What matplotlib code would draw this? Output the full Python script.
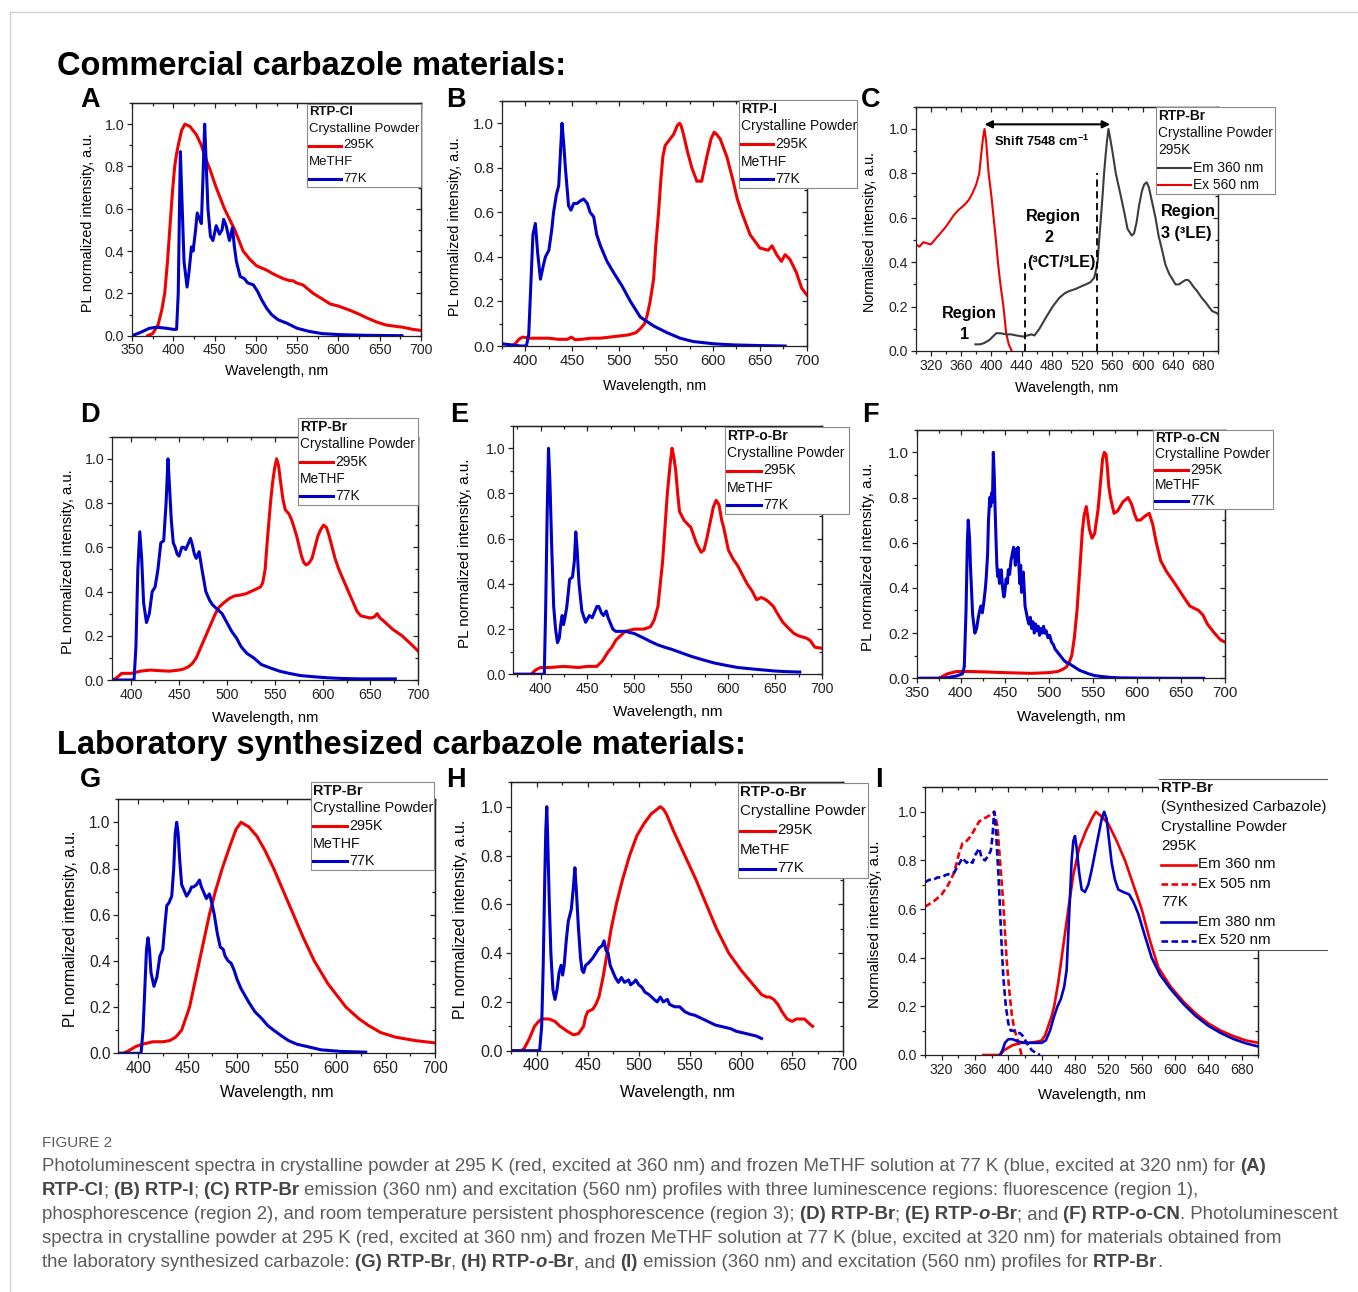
import matplotlib
matplotlib.use("Agg")
import numpy as np
import matplotlib.pyplot as plt
from matplotlib.lines import Line2D
from matplotlib.patches import Rectangle
from matplotlib.ticker import MultipleLocator, FormatStrFormatter

W, H = 1358, 1292
RED = "#f00000"
BLUE = "#0000c8"
GREY = "#3c3c3c"

# ---------------- spectra: (wavelength nm, normalised intensity) -------------
A_RED = [(369, 0), (375, 0.01), (381.5, 0.05), (386, 0.12), (389.6, 0.2), (393, 0.35), (395.7, 0.5),
         (399, 0.68), (401.7, 0.8), (404, 0.86), (406, 0.9), (410, 0.97), (414, 1.0), (420, 0.99),
         (428, 0.95), (434, 0.9), (438, 0.85), (444, 0.79), (452, 0.7), (462, 0.6), (474.5, 0.5),
         (484.6, 0.4), (493, 0.36), (501, 0.33), (513, 0.31), (522, 0.29), (533, 0.27), (541, 0.26),
         (545, 0.26), (549, 0.25), (557, 0.24), (569.5, 0.2), (582, 0.17), (590, 0.15), (600, 0.14),
         (614, 0.12), (626, 0.1), (634, 0.085), (646, 0.065), (658, 0.05), (668, 0.045), (678, 0.04),
         (690, 0.03), (700, 0.025)]
A_BLUE = [(350, 0), (360, 0.015), (371, 0.035), (380, 0.04), (392, 0.035), (400, 0.03), (404, 0.03),
          (406, 0.2), (407.5, 0.6), (408.6, 0.87), (410, 0.7), (413, 0.35), (416.7, 0.23), (419, 0.3),
          (422, 0.42), (424, 0.4), (427, 0.5), (429, 0.58), (432, 0.55), (434, 0.53), (436, 0.75),
          (438, 1.0), (440, 0.8), (442, 0.6), (445, 0.47), (448, 0.45), (452, 0.52), (456, 0.48),
          (459, 0.5), (461, 0.55), (464, 0.52), (468, 0.45), (471.7, 0.51), (474, 0.42), (476.5, 0.35),
          (481, 0.28), (486, 0.27), (490, 0.25), (497, 0.24), (502, 0.21), (507, 0.17), (513, 0.13),
          (519, 0.1), (527, 0.075), (537, 0.06), (550, 0.035), (565, 0.02), (580, 0.01), (602, 0.005),
          (630, 0.002), (677, 0.0)]

B_RED = [(385, 0), (389, 0.01), (393, 0.03), (397, 0.04), (405, 0.035), (415, 0.035), (425, 0.035),
         (435, 0.03), (445, 0.03), (449, 0.04), (453, 0.028), (460, 0.03), (470, 0.035), (480, 0.035),
         (490, 0.04), (500, 0.045), (510, 0.05), (518, 0.06), (523, 0.08), (527, 0.1), (530, 0.14),
         (533, 0.2), (536.7, 0.3), (539, 0.45), (542, 0.6), (544.5, 0.75), (546.6, 0.85), (549, 0.9),
         (552.6, 0.92), (558, 0.95), (562, 0.99), (564.4, 1.0), (566, 0.99), (568.6, 0.95), (573, 0.87),
         (577.5, 0.8), (582.8, 0.74), (588, 0.74), (593.5, 0.85), (598, 0.93), (601.3, 0.96), (604, 0.95),
         (607.7, 0.93), (614.8, 0.85), (621, 0.75), (626, 0.66), (630.7, 0.6), (639.6, 0.5), (650, 0.44),
         (659, 0.43), (663, 0.45), (668, 0.41), (673, 0.38), (677, 0.41), (682, 0.39), (689, 0.33),
         (694.6, 0.26), (700, 0.23)]
B_BLUE = [(375, 0.01), (385, 0.005), (395, 0), (401, 0), (403.5, 0.05), (406, 0.3), (408, 0.5),
          (410.6, 0.55), (413, 0.42), (416, 0.3), (419, 0.36), (421.3, 0.4), (425, 0.43), (428, 0.52),
          (430, 0.6), (433, 0.68), (435.5, 0.72), (437.5, 0.88), (439, 1.0), (441, 0.9), (442.6, 0.8),
          (446, 0.63), (448.5, 0.61), (451.5, 0.64), (455, 0.64), (458, 0.65), (462, 0.66), (466, 0.64),
          (469, 0.6), (472.8, 0.58), (476, 0.5), (480, 0.45), (487, 0.38), (494, 0.33), (503, 0.27),
          (512, 0.2), (522.5, 0.13), (536.7, 0.09), (551, 0.06), (565, 0.035), (579, 0.02),
          (600.6, 0.01), (622, 0.005), (650, 0.002), (677, 0.0)]

C_EX = [(300, 0.48), (305, 0.47), (310, 0.49), (320, 0.48), (330, 0.52), (340, 0.56), (350, 0.61),
        (355, 0.63), (360, 0.645), (365, 0.66), (370, 0.68), (375, 0.71), (380, 0.75), (384, 0.8),
        (387, 0.9), (389, 0.96), (391, 1.0), (393, 0.95), (396.4, 0.8), (400, 0.7), (403, 0.6),
        (406, 0.5), (408.7, 0.4), (412, 0.3), (416, 0.2), (419.6, 0.08), (423, 0.03), (427, 0.0)]
C_EM = [(379, 0.03), (385, 0.03), (390, 0.035), (397.7, 0.05), (402, 0.065), (406.5, 0.08), (412, 0.08),
        (419.6, 0.075), (426, 0.075), (433, 0.07), (441.6, 0.065), (448, 0.07), (452.6, 0.075),
        (457, 0.07), (463.5, 0.1), (472, 0.15), (481, 0.2), (490, 0.24), (497, 0.26), (503, 0.27),
        (511.8, 0.28), (518, 0.29), (525, 0.3), (531, 0.31), (536, 0.33), (538, 0.36), (540.4, 0.4),
        (542.5, 0.5), (544.8, 0.6), (547, 0.7), (549, 0.8), (551, 0.88), (553, 0.95), (554.8, 1.0),
        (557, 0.96), (560, 0.9), (564.5, 0.8), (571, 0.7), (576, 0.62), (580, 0.55), (585.6, 0.52),
        (588.7, 0.53), (592, 0.58), (595, 0.65), (599, 0.72), (602, 0.75), (605.3, 0.76), (608, 0.74),
        (610.6, 0.7), (617, 0.6), (621, 0.52), (626, 0.45), (630, 0.39), (634.7, 0.35), (643.5, 0.3),
        (648, 0.3), (652, 0.31), (656.7, 0.32), (660, 0.32), (663, 0.31), (667, 0.29), (672, 0.27),
        (678, 0.24), (683, 0.22), (691.8, 0.18), (698.4, 0.17), (700, 0.165)]

D_RED = [(381, 0), (385, 0.01), (390, 0.03), (400, 0.03), (410, 0.04), (420, 0.045), (430, 0.042),
         (440, 0.04), (450, 0.045), (455, 0.05), (459.9, 0.06), (464, 0.075), (468, 0.1), (473, 0.15),
         (478, 0.2), (483, 0.25), (488, 0.3), (492, 0.33), (497, 0.35), (503, 0.37), (508, 0.38),
         (515, 0.385), (520, 0.39), (525, 0.4), (530, 0.41), (535, 0.42), (537.5, 0.44), (540, 0.5),
         (541.7, 0.6), (544, 0.72), (546, 0.82), (548, 0.9), (550, 0.96), (552, 1.0), (554, 0.97),
         (556, 0.9), (558.5, 0.82), (561, 0.77), (565, 0.75), (568, 0.72), (573, 0.65), (578, 0.56),
         (580.5, 0.53), (583, 0.52), (586, 0.53), (589, 0.55), (592, 0.6), (595, 0.65), (598, 0.68),
         (601, 0.7), (604, 0.69), (607, 0.65), (613, 0.55), (617, 0.5), (622, 0.45), (627, 0.4),
         (632, 0.35), (636, 0.31), (640, 0.29), (645, 0.285), (650, 0.28), (654, 0.285), (657, 0.3),
         (660, 0.28), (663, 0.27), (668, 0.25), (673, 0.23), (678, 0.215), (683, 0.2), (688, 0.18),
         (693, 0.16), (700, 0.13)]
D_BLUE = [(381, 0), (395, 0), (403, 0), (405, 0.15), (407, 0.5), (409, 0.67), (411, 0.55), (413, 0.35),
          (416, 0.26), (419, 0.3), (422, 0.4), (425, 0.42), (428, 0.5), (431, 0.62), (434, 0.63),
          (436.5, 0.8), (438.5, 1.0), (440, 0.88), (442, 0.72), (444, 0.62), (446, 0.6), (448, 0.57),
          (450, 0.56), (453, 0.6), (455, 0.6), (457, 0.59), (460, 0.62), (462, 0.64), (464, 0.61),
          (466, 0.57), (468, 0.55), (471, 0.58), (474, 0.5), (478, 0.4), (482, 0.36), (485, 0.34),
          (490, 0.32), (495, 0.3), (500, 0.26), (505, 0.22), (510, 0.19), (515, 0.15), (521, 0.12),
          (528, 0.1), (536, 0.07), (545, 0.055), (555, 0.04), (565, 0.03), (577, 0.02), (590, 0.015),
          (605, 0.01), (620, 0.007), (640, 0.005), (660, 0.005), (676, 0.005)]

E_RED = [(371, 0), (390, 0), (395, 0.02), (400, 0.03), (410, 0.03), (425, 0.035), (440, 0.03),
         (450, 0.035), (460, 0.035), (466, 0.06), (472, 0.1), (476, 0.12), (480, 0.15), (485, 0.17),
         (490, 0.19), (500, 0.2), (510, 0.2), (517, 0.21), (521, 0.24), (525, 0.3), (527.5, 0.4),
         (530, 0.5), (532.5, 0.65), (535, 0.8), (538, 0.93), (540, 1.0), (542, 0.96), (544, 0.9),
         (546, 0.8), (548, 0.72), (553, 0.68), (560, 0.65), (566, 0.58), (571, 0.54), (574, 0.55),
         (577, 0.6), (581, 0.68), (584, 0.74), (587, 0.77), (590, 0.75), (593, 0.68), (595, 0.65),
         (600, 0.55), (605, 0.51), (610, 0.48), (615, 0.44), (620, 0.4), (625, 0.37), (630, 0.33),
         (635, 0.34), (640, 0.33), (643, 0.32), (648, 0.3), (652, 0.27), (658, 0.23), (665, 0.2),
         (670, 0.18), (675, 0.17), (683, 0.16), (687, 0.15), (692, 0.12), (700, 0.115)]
E_BLUE = [(371, 0), (395, 0), (404, 0), (405.5, 0.3), (407, 0.7), (408.5, 1.0), (410, 0.85), (412, 0.55),
          (414, 0.3), (416, 0.2), (418, 0.14), (420, 0.16), (421.5, 0.22), (423, 0.26), (424.5, 0.22),
          (426, 0.25), (428, 0.3), (431, 0.42), (434, 0.43), (436, 0.5), (437.5, 0.63), (439, 0.55),
          (441, 0.4), (444, 0.28), (448, 0.23), (452, 0.26), (455, 0.25), (457, 0.27), (460, 0.3),
          (462, 0.3), (465, 0.27), (467, 0.26), (470, 0.28), (472, 0.25), (474, 0.23), (477, 0.2),
          (480, 0.19), (485, 0.19), (490, 0.19), (495, 0.185), (500, 0.18), (505, 0.17), (510, 0.16),
          (517, 0.145), (525, 0.13), (532, 0.12), (540, 0.11), (550, 0.095), (560, 0.08), (572, 0.065),
          (585, 0.05), (597, 0.04), (610, 0.03), (622, 0.025), (635, 0.02), (648, 0.015), (660, 0.012),
          (676, 0.01)]

F_RED = [(350, 0), (375, 0), (385, 0.02), (395, 0.03), (410, 0.03), (430, 0.028), (450, 0.025),
         (480, 0.022), (500, 0.025), (510, 0.03), (516, 0.04), (520, 0.05), (523, 0.07), (526, 0.1),
         (529, 0.18), (532, 0.3), (535.5, 0.5), (538, 0.65), (540, 0.72), (542.5, 0.76), (544, 0.72),
         (546, 0.66), (549, 0.62), (552, 0.64), (556, 0.75), (559, 0.88), (561, 0.97), (563, 1.0),
         (565, 0.99), (566.5, 0.93), (568, 0.85), (570, 0.8), (574, 0.73), (578, 0.74), (581, 0.76),
         (584, 0.78), (587, 0.79), (590, 0.8), (594, 0.77), (597, 0.73), (600, 0.7), (604, 0.7),
         (607, 0.71), (610, 0.72), (614, 0.73), (618, 0.68), (622, 0.6), (627, 0.52), (634, 0.47),
         (643, 0.42), (653, 0.36), (660, 0.32), (670, 0.3), (675, 0.28), (680, 0.24), (688, 0.2),
         (695, 0.17), (700, 0.16)]
F_BLUE = [(350, 0), (380, 0), (395, 0.01), (402, 0.02), (404, 0.05), (406, 0.3), (407.5, 0.6),
          (408.5, 0.7), (410, 0.62), (411, 0.5), (413.5, 0.28), (416, 0.2), (418, 0.22), (420, 0.27),
          (421.5, 0.3), (423, 0.32), (424.5, 0.29), (426, 0.33), (428, 0.4), (429, 0.45), (430.5, 0.55),
          (431.5, 0.7), (433, 0.8), (434, 0.76), (435, 0.82), (436, 0.78), (437, 1.0), (438, 0.9),
          (439, 0.75), (440, 0.62), (441, 0.5), (442, 0.45), (443, 0.48), (444, 0.42), (446, 0.48),
          (447.5, 0.4), (449, 0.36), (450, 0.38), (451.5, 0.44), (453, 0.42), (454, 0.48), (455.5, 0.46),
          (457, 0.52), (458.5, 0.55), (460, 0.58), (461, 0.55), (462, 0.5), (463, 0.57), (464, 0.52),
          (465, 0.58), (466, 0.5), (467, 0.42), (468, 0.5), (469, 0.38), (470, 0.45), (471, 0.47),
          (472, 0.4), (473, 0.32), (474, 0.3), (475, 0.28), (476, 0.26), (477.5, 0.24), (479, 0.27),
          (480.5, 0.22), (482, 0.25), (483.5, 0.2), (485, 0.24), (486.5, 0.21), (488, 0.23),
          (489.5, 0.19), (491, 0.22), (492.5, 0.2), (494, 0.23), (495.5, 0.2), (497, 0.21), (499, 0.18),
          (501, 0.19), (503, 0.16), (505, 0.15), (507, 0.13), (509, 0.12), (511, 0.11), (513, 0.1),
          (515, 0.09), (517, 0.08), (520, 0.07), (523, 0.065), (527, 0.055), (531, 0.045), (535, 0.035),
          (540, 0.028), (545, 0.02), (552, 0.012), (560, 0.008), (570, 0.004), (580, 0.002),
          (600, 0.001), (640, 0.0), (676, 0.0)]

G_RED = [(380, 0), (385, 0), (390, 0.01), (398, 0.03), (405, 0.04), (415, 0.05), (425, 0.05),
         (432, 0.055), (438, 0.07), (444, 0.1), (448, 0.15), (452, 0.2), (457, 0.3), (462, 0.4),
         (467, 0.5), (472, 0.6), (478, 0.7), (485, 0.8), (493, 0.9), (499, 0.97), (504, 1.0),
         (512, 0.98), (520, 0.94), (528, 0.88), (537, 0.8), (547, 0.7), (557, 0.6), (567, 0.5),
         (578, 0.4), (592, 0.3), (610, 0.2), (623, 0.15), (633, 0.12), (645, 0.09), (660, 0.07),
         (680, 0.055), (700, 0.045)]
G_BLUE = [(380, 0), (403, 0), (405, 0.1), (407, 0.3), (408.5, 0.45), (410, 0.5), (411.5, 0.45),
          (413, 0.35), (416, 0.29), (419, 0.33), (422, 0.42), (425, 0.45), (427, 0.55), (429, 0.64),
          (431, 0.65), (434, 0.68), (436, 0.8), (437.5, 0.95), (439, 1.0), (440.5, 0.95), (442, 0.84),
          (444, 0.73), (447, 0.7), (449, 0.68), (452, 0.7), (454, 0.72), (456, 0.72), (459, 0.73),
          (462, 0.75), (464, 0.72), (466, 0.7), (469, 0.67), (472, 0.69), (474, 0.66), (477, 0.6),
          (480, 0.52), (483, 0.46), (486, 0.45), (488, 0.42), (491, 0.4), (494, 0.39), (497, 0.36),
          (500, 0.32), (504, 0.28), (508, 0.25), (512, 0.22), (518, 0.18), (525, 0.15), (531, 0.12),
          (537, 0.1), (545, 0.075), (552, 0.055), (560, 0.04), (570, 0.03), (585, 0.015), (605, 0.008),
          (630, 0.005)]

H_RED = [(375, 0), (385, 0), (388, 0.01), (393, 0.05), (398, 0.1), (402, 0.12), (405, 0.13), (412, 0.13),
         (418, 0.12), (423, 0.1), (430, 0.08), (436, 0.065), (441, 0.07), (446, 0.1), (448, 0.14),
         (450, 0.16), (455, 0.17), (458, 0.19), (461, 0.22), (465, 0.3), (469, 0.4), (473, 0.5),
         (478, 0.6), (484, 0.7), (491, 0.8), (498, 0.88), (505, 0.93), (512, 0.97), (518, 0.99),
         (521, 1.0), (524, 0.99), (527, 0.97), (534, 0.9), (545, 0.8), (556, 0.7), (566, 0.6),
         (576, 0.5), (588, 0.4), (600, 0.33), (610, 0.28), (620, 0.23), (625, 0.22), (628, 0.22),
         (632, 0.21), (636, 0.19), (640, 0.16), (645, 0.13), (650, 0.12), (654, 0.13), (657, 0.13),
         (662, 0.13), (667, 0.11), (670, 0.1)]
H_BLUE = [(375, 0), (403, 0), (405, 0.1), (406.5, 0.35), (408, 0.7), (409, 0.9), (410, 1.0), (411, 0.85),
          (412.5, 0.6), (414, 0.4), (416, 0.25), (418, 0.21), (420, 0.25), (422, 0.32), (424, 0.35),
          (425.5, 0.31), (427, 0.35), (429, 0.45), (431, 0.53), (434, 0.58), (436, 0.67), (437.5, 0.75),
          (439, 0.65), (441, 0.5), (443, 0.38), (444.5, 0.33), (446, 0.32), (448, 0.35), (451, 0.36),
          (455, 0.38), (458, 0.4), (461, 0.42), (464, 0.43), (466, 0.45), (468, 0.41), (470, 0.4),
          (472, 0.35), (474, 0.33), (477, 0.3), (480, 0.28), (483, 0.3), (486, 0.28), (490, 0.29),
          (492, 0.27), (495, 0.28), (497, 0.29), (500, 0.27), (503, 0.26), (506, 0.24), (510, 0.23),
          (515, 0.21), (518, 0.2), (521, 0.22), (524, 0.2), (528, 0.21), (530, 0.19), (535, 0.18),
          (540, 0.18), (545, 0.16), (550, 0.15), (555, 0.145), (560, 0.135), (565, 0.125),
          (570, 0.115), (575, 0.105), (580, 0.1), (585, 0.095), (590, 0.09), (595, 0.08), (600, 0.075),
          (605, 0.07), (610, 0.065), (615, 0.06), (620, 0.05)]

I_EM295 = [(370, 0), (390, 0), (395, 0.02), (400, 0.03), (405, 0.04), (415, 0.05), (425, 0.05),
           (435, 0.055), (440, 0.06), (444, 0.08), (448, 0.12), (452, 0.16), (455, 0.2), (460, 0.3),
           (466, 0.45), (472, 0.6), (478, 0.74), (485, 0.85), (493, 0.92), (500, 0.97), (505, 1.0),
           (512, 0.98), (520, 0.95), (530, 0.88), (540, 0.8), (550, 0.7), (560, 0.6), (570, 0.47),
           (580, 0.36), (595, 0.28), (610, 0.22), (625, 0.17), (640, 0.13), (655, 0.1), (670, 0.078),
           (685, 0.06), (700, 0.05)]
I_EX295 = [(300, 0.61), (310, 0.63), (320, 0.66), (328, 0.7), (335, 0.75), (341, 0.83), (345, 0.87),
           (350, 0.88), (355, 0.9), (360, 0.93), (365, 0.96), (370, 0.97), (375, 0.98), (380, 0.99),
           (383, 1.0), (387, 0.94), (390, 0.8), (394, 0.62), (398, 0.39), (401, 0.27), (404, 0.17),
           (407, 0.11), (410, 0.075), (413, 0.04), (416, 0.0)]
I_EM77 = [(390, 0), (393, 0.02), (396, 0.05), (400, 0.065), (405, 0.065), (412, 0.055), (420, 0.05),
          (430, 0.05), (440, 0.05), (445, 0.06), (450, 0.1), (455, 0.16), (459, 0.2), (463, 0.23),
          (467, 0.28), (470, 0.35), (472, 0.5), (474, 0.65), (476, 0.8), (478, 0.88), (480, 0.9),
          (482, 0.85), (485, 0.75), (488, 0.68), (492, 0.67), (496, 0.7), (500, 0.76), (504, 0.83),
          (508, 0.9), (512, 0.97), (515, 1.0), (518, 0.97), (521, 0.88), (524, 0.79), (528, 0.72),
          (532, 0.68), (538, 0.67), (545, 0.66), (550, 0.63), (556, 0.58), (563, 0.5), (572, 0.4),
          (582, 0.33), (595, 0.27), (610, 0.21), (625, 0.16), (640, 0.12), (655, 0.09), (670, 0.066),
          (685, 0.048), (700, 0.035)]
I_EX77 = [(300, 0.71), (305, 0.72), (310, 0.72), (315, 0.73), (320, 0.73), (325, 0.74), (330, 0.745),
          (335, 0.75), (340, 0.78), (345, 0.81), (350, 0.79), (353, 0.8), (357, 0.79), (360, 0.82),
          (365, 0.85), (368, 0.81), (372, 0.8), (376, 0.82), (379, 0.84), (381, 0.9), (383, 1.0),
          (385, 0.93), (388, 0.75), (390, 0.6), (392, 0.45), (394, 0.32), (397, 0.2), (400, 0.13),
          (403, 0.1), (406, 0.1), (410, 0.09), (414, 0.09), (417, 0.08), (422, 0.05), (428, 0.02),
          (435, 0.005), (438, 0.0)]

PL_LABEL = "PL normalized intensity, a.u."
NORM_LABEL = "Normalised intensity, a.u."
X_LABEL = "Wavelength, nm"

plt.rcParams["font.family"] = ["Liberation Sans", "DejaVu Sans"]
plt.rcParams["mathtext.fontset"] = "custom"
plt.rcParams["mathtext.rm"] = "Liberation Sans"
plt.rcParams["mathtext.bf"] = "Liberation Sans:bold"

fig = plt.figure(figsize=(W / 100, H / 100), dpi=100)
fig.patch.set_facecolor("white")


def fx(x):
    return x / W


def fy(y):
    return 1 - y / H


def ftext(x, y, s, **kw):
    kw.setdefault("zorder", 7)
    return fig.text(fx(x), fy(y), s, **kw)


def panel(x0, x1, y_zero, y_top, xlim, xstep, tick_fs):
    """axes placed by pixel box; y_zero = pixel row of 0.0, y_top = pixel row of 1.1"""
    ax = fig.add_axes([fx(x0), fy(y_zero), (x1 - x0) / W, (y_zero - y_top) / H])
    ax.set_xlim(*xlim)
    ax.set_ylim(0, 1.1)
    first = np.ceil(xlim[0] / xstep) * xstep
    xt = np.arange(first, xlim[1] + 0.1, xstep)
    yt = np.arange(0, 1.01, 0.2)
    ax.set_xticks(xt)
    ax.set_yticks(yt)
    ax.xaxis.set_minor_locator(MultipleLocator(xstep / 2))
    ax.yaxis.set_minor_locator(MultipleLocator(0.1))
    ax.xaxis.set_major_formatter(FormatStrFormatter("%d"))
    ax.yaxis.set_major_formatter(FormatStrFormatter("%.1f"))
    ax.tick_params(which="both", direction="out", colors="#222222", labelsize=tick_fs, pad=2,
                   width=0.9)
    ax.tick_params(which="major", length=3.5)
    ax.tick_params(which="minor", length=2)
    for sp in ax.spines.values():
        sp.set_linewidth(0.9)
        sp.set_color("#222222")
    top = ax.secondary_xaxis("top")
    top.set_xticks(xt, labels=[])
    top.xaxis.set_minor_locator(MultipleLocator(xstep / 2))
    top.tick_params(which="both", direction="in", width=0.9, colors="#222222")
    top.tick_params(which="major", length=3.5)
    top.tick_params(which="minor", length=2)
    top.spines["top"].set_linewidth(0.9)
    right = ax.secondary_yaxis("right")
    right.set_yticks(yt, labels=[])
    right.yaxis.set_minor_locator(MultipleLocator(0.1))
    right.tick_params(which="both", direction="in", width=0.9, colors="#222222")
    right.tick_params(which="major", length=3.5)
    right.tick_params(which="minor", length=2)
    right.spines["right"].set_linewidth(0.9)
    return ax


def labels(letter, lx, ly, ylab, ylab_x, xlab_y, x0, x1, y_zero, y_top, fs):
    ftext(lx, ly, letter, fontsize=19.5, weight="bold", va="baseline", ha="left")
    ftext((x0 + x1) / 2, xlab_y, X_LABEL, fontsize=fs, ha="center", va="center")
    ftext(ylab_x, (y_zero + y_top) / 2 + 3, ylab, fontsize=fs, rotation=90, ha="center", va="center")


def legend_box(x0, y0, x1, y1, rows, fs, line_len, lw=2.2, frame="box"):
    if frame == "box":
        fig.add_artist(Rectangle((fx(x0), fy(y1)), (x1 - x0) / W, (y1 - y0) / H,
                                 transform=fig.transFigure, facecolor="white",
                                 edgecolor="#8a8a8a", lw=0.8, zorder=5))
    else:
        fig.add_artist(Rectangle((fx(x0), fy(y1)), (x1 - x0) / W, (y1 - y0) / H,
                                 transform=fig.transFigure, facecolor="white",
                                 edgecolor="none", zorder=5))
        for yy in (y0, y1):
            fig.add_artist(Line2D([fx(x0), fx(x1)], [fy(yy), fy(yy)], transform=fig.transFigure,
                                  color="#555555", lw=0.8, zorder=6))
    step = (y1 - y0) / len(rows)
    for i, (txt, bold, color, ls) in enumerate(rows):
        yc = y0 + step * (i + 0.5)
        tx = x0 + 2
        if color is not None:
            fig.add_artist(Line2D([fx(x0 + 2), fx(x0 + 2 + line_len)], [fy(yc), fy(yc)],
                                  transform=fig.transFigure, color=color, lw=lw, ls=ls, zorder=6))
            tx = x0 + 4 + line_len
        ftext(tx, yc, txt, fontsize=fs, weight="bold" if bold else "normal", va="center",
              ha="left", color="#111111")


def std_rows(name):
    return [(name, True, None, None), ("Crystalline Powder", False, None, None),
            ("295K", False, RED, "-"), ("MeTHF", False, None, None), ("77K", False, BLUE, "-")]


def draw(ax, data, color, lw=2.2, ls="-"):
    wl, inten = zip(*data)
    ax.plot(wl, inten, color=color, lw=lw, ls=ls, solid_joinstyle="round")


# ---------------- titles / frame ----------------
fig.add_artist(Line2D([fx(10), 1], [fy(12), fy(12)], transform=fig.transFigure, color="#d0d0d0", lw=1))
fig.add_artist(Line2D([fx(10), fx(10)], [fy(12), 0], transform=fig.transFigure, color="#d0d0d0", lw=1))
ftext(57, 75, "Commercial carbazole materials:", fontsize=23.5, weight="bold", va="baseline")
ftext(57, 754, "Laboratory synthesized carbazole materials:", fontsize=23.5, weight="bold",
      va="baseline")

# ---------------- A ----------------
ax = panel(132, 421, 335.7, 103, (350, 700), 50, 10.2)
draw(ax, A_RED, RED)
draw(ax, A_BLUE, BLUE)
labels("A", 80, 107, PL_LABEL, 88, 371, 132, 421, 335.7, 103, 10.3)
legend_box(307, 104, 421, 187, std_rows("RTP-Cl"), 9.5, 32)

# ---------------- B ----------------
ax = panel(502, 806.7, 346, 101, (375, 700), 50, 10.8)
draw(ax, B_RED, RED)
draw(ax, B_BLUE, BLUE)
labels("B", 446, 107, PL_LABEL, 455, 386, 502, 806.7, 346, 101, 10.3)
legend_box(739, 100, 857, 188, std_rows("RTP-I"), 10, 32)

# ---------------- C ----------------
ax = panel(915.7, 1218.3, 351, 106.8, (300, 700), 40, 10.2)
draw(ax, C_EX, RED, lw=1.5)
draw(ax, C_EM, GREY, lw=1.5)
ax.plot([445, 445], [0, 0.395], color="black", lw=1.3, ls=(0, (4, 2.5)))
ax.plot([539, 539], [0, 0.80], color="black", lw=1.3, ls=(0, (4, 2.5)))
ax.annotate("", xy=(557, 1.021), xytext=(391, 1.021),
            arrowprops=dict(arrowstyle="<|-|>", color="black", lw=1.5, mutation_scale=11,
                            shrinkA=0, shrinkB=0))
ax.text(467, 0.943, r"Shift 7548 cm$^{\mathbf{-1}}$", fontsize=9.3, weight="bold", ha="center",
        va="center")
reg = dict(fontsize=11.7, weight="bold", ha="center", va="center")
ax.text(371, 0.17, "Region", **reg)
ax.text(364, 0.075, "1", **reg)
ax.text(482, 0.605, "Region", **reg)
ax.text(476, 0.51, "2", **reg)
ax.text(492, 0.40, "(³CT/³LE)", **reg)
ax.text(660, 0.63, "Region", **reg)
ax.text(657, 0.53, "3 (³LE)", **reg)
labels("C", 861, 107, NORM_LABEL, 870, 388, 915.7, 1218.3, 351, 106.8, 10.3)
legend_box(1156, 107, 1275, 194,
           [("RTP-Br", True, None, None), ("Crystalline Powder", False, None, None),
            ("295K", False, None, None), ("Em 360 nm", False, GREY, "-"),
            ("Ex 560 nm", False, RED, "-")], 9.9, 33, lw=1.5)

# ---------------- D ----------------
ax = panel(112, 418.3, 680, 436.7, (380, 700), 50, 10.2)
draw(ax, D_RED, RED)
draw(ax, D_BLUE, BLUE)
labels("D", 80, 422, PL_LABEL, 68, 718, 112, 418.3, 680, 436.7, 10.6)
legend_box(298, 418, 418, 505, std_rows("RTP-Br"), 9.9, 33)

# ---------------- E ----------------
ax = panel(513.3, 822.3, 674.3, 425.7, (371, 700), 50, 10.2)
draw(ax, E_RED, RED)
draw(ax, E_BLUE, BLUE)
labels("E", 450, 422, PL_LABEL, 465, 712, 513.3, 822.3, 674.3, 425.7, 11)
legend_box(725, 427, 849, 514, std_rows("RTP-o-Br"), 10.1, 34)

# ---------------- F ----------------
ax = panel(916.7, 1225, 678.3, 429.7, (350, 700), 50, 10.8)
draw(ax, F_RED, RED)
draw(ax, F_BLUE, BLUE)
labels("F", 862, 422, PL_LABEL, 868, 717, 916.7, 1225, 678.3, 429.7, 10.9)
legend_box(1153, 430, 1273, 509, std_rows("RTP-o-CN"), 9.9, 33)

# ---------------- G ----------------
ax = panel(118.3, 435, 1053.3, 799.2, (380, 700), 50, 11.2)
draw(ax, G_RED, RED)
draw(ax, G_BLUE, BLUE)
labels("G", 80, 787, PL_LABEL, 70, 1092, 118.3, 435, 1053.3, 799.2, 11.3)
legend_box(311, 782, 434, 870, std_rows("RTP-Br"), 10.4, 34)

# ---------------- H ----------------
ax = panel(511, 843.3, 1050.7, 782.3, (375, 700), 50, 11.6)
draw(ax, H_RED, RED)
draw(ax, H_BLUE, BLUE)
labels("H", 446, 787, PL_LABEL, 460, 1092, 511, 843.3, 1050.7, 782.3, 11.5)
legend_box(738, 783, 868, 878, std_rows("RTP-o-Br"), 10.9, 35)

# ---------------- I ----------------
ax = panel(925, 1258.3, 1055, 787.4, (300, 700), 40, 10.2)
draw(ax, I_EM295, RED, lw=1.9)
draw(ax, I_EX295, RED, lw=1.9, ls=(0, (2.5, 1.3)))
draw(ax, I_EM77, BLUE, lw=1.9)
draw(ax, I_EX77, BLUE, lw=1.9, ls=(0, (2.5, 1.3)))
labels("I", 875, 787, NORM_LABEL, 875, 1095, 925, 1258.3, 1055, 787.4, 10.8)
legend_box(1159, 779, 1327, 950,
           [("RTP-Br", True, None, None), ("(Synthesized Carbazole)", False, None, None),
            ("Crystalline Powder", False, None, None), ("295K", False, None, None),
            ("Em 360 nm", False, RED, "-"), ("Ex 505 nm", False, RED, (0, (2.5, 1.3))),
            ("77K", False, None, None), ("Em 380 nm", False, BLUE, "-"),
            ("Ex 520 nm", False, BLUE, (0, (2.5, 1.3)))], 10.9, 35, lw=1.9, frame="tb")

# ---------------- caption ----------------
renderer = fig.canvas.get_renderer()
CAP_FS = 13.45


def text_width(s, weight, style):
    t1 = fig.text(0, 0, "|" + s + "|", fontsize=CAP_FS, weight=weight, style=style)
    t2 = fig.text(0, 0, "||", fontsize=CAP_FS, weight=weight, style=style)
    w = t1.get_window_extent(renderer).width - t2.get_window_extent(renderer).width
    t1.remove()
    t2.remove()
    return w


def rich_line(x, y, parts):
    for s, st in parts:
        weight = "bold" if "b" in st else "normal"
        style = "italic" if "i" in st else "normal"
        color = "#454545" if "b" in st else "#5c5c5c"
        ftext(x, y, s, fontsize=CAP_FS, weight=weight, style=style, color=color, va="baseline")
        x += text_width(s, weight, style)


ftext(42, 1147, "FIGURE 2", fontsize=11, color="#5c5c5c", va="baseline")
CAPTION = [
    [("Photoluminescent spectra in crystalline powder at 295 K (red, excited at 360 nm) and frozen "
      "MeTHF solution at 77 K (blue, excited at 320 nm) for ", ""), ("(A)", "b")],
    [("RTP-Cl", "b"), ("; ", ""), ("(B) RTP-I", "b"), ("; ", ""), ("(C) RTP-Br", "b"),
     (" emission (360 nm) and excitation (560 nm) profiles with three luminescence regions: "
      "fluorescence (region 1),", "")],
    [("phosphorescence (region 2), and room temperature persistent phosphorescence (region 3); ", ""),
     ("(D) RTP-Br", "b"), ("; ", ""), ("(E) RTP-", "b"), ("o", "bi"), ("-Br", "b"), ("; and ", ""),
     ("(F) RTP-o-CN", "b"), (". Photoluminescent", "")],
    [("spectra in crystalline powder at 295 K (red, excited at 360 nm) and frozen MeTHF solution at "
      "77 K (blue, excited at 320 nm) for materials obtained from", "")],
    [("the laboratory synthesized carbazole: ", ""), ("(G) RTP-Br", "b"), (", ", ""),
     ("(H) RTP-", "b"), ("o", "bi"), ("-Br", "b"), (", and ", ""), ("(I)", "b"),
     (" emission (360 nm) and excitation (560 nm) profiles for ", ""), ("RTP-Br", "b"), (".", "")],
]
for k, parts in enumerate(CAPTION):
    rich_line(42, 1171 + 24 * k, parts)

fig.savefig("out.png", dpi=100, facecolor="white")
